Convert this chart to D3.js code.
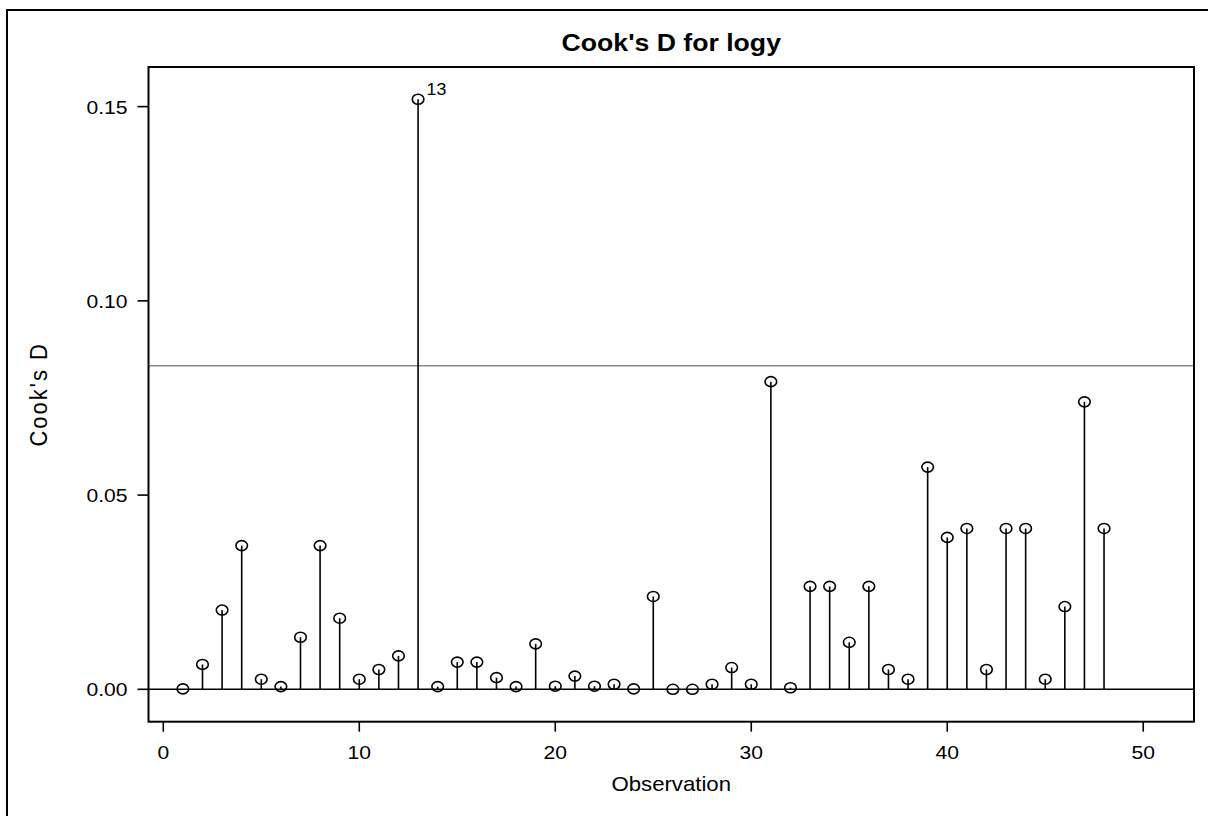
<!DOCTYPE html>
<html>
<head>
<meta charset="utf-8">
<title>Cook's D for logy</title>
<script src="https://cdn.jsdelivr.net/npm/d3@7"></script>
<style>
  html, body { margin: 0; padding: 0; background: #fff; }
  svg { display: block; }
  text { font-family: "Liberation Sans", Arial, Helvetica, sans-serif; fill: #000; }
</style>
</head>
<body>
<svg id="chart" width="1208" height="816"></svg>
<script>
// Observation numbers and Cook's D values
const observations = d3.range(1, 49);
const cooksD = [
  0.0001, 0.0064, 0.0204, 0.0370, 0.0026, 0.0007, 0.0134, 0.0370, 0.0183, 0.0026,
  0.0051, 0.0086, 0.1519, 0.0007, 0.0070, 0.0070, 0.0030, 0.0007, 0.0117, 0.0008,
  0.0034, 0.0008, 0.0013, 0.0001, 0.0239, 0.0000, 0.0000, 0.0013, 0.0056, 0.0013,
  0.0792, 0.0004, 0.0265, 0.0265, 0.0121, 0.0265, 0.0051, 0.0026, 0.0572, 0.0391,
  0.0414, 0.0051, 0.0414, 0.0414, 0.0026, 0.0213, 0.0740, 0.0414
];
// Influence cutoff (4/n)
const cutoff = 0.0833;
const xTicks = [0, 10, 20, 30, 40, 50];
const yTicks = [0.00, 0.05, 0.10, 0.15];

const points = observations.map((o, i) => ({ obs: o, d: cooksD[i] }));

const svg = d3.select("#chart");
const plot = { left: 148.5, right: 1194, top: 67, bottom: 721.7 };
const sx = 1.11; // horizontal text stretch

const x = d3.scaleLinear().domain([-0.755, 52.59]).range([plot.left, plot.right]);
const y = d3.scaleLinear().domain([-0.00834, 0.1602]).range([plot.bottom, plot.top]);

// Outer frame
svg.append("rect")
  .attr("x", 7).attr("y", 10)
  .attr("width", 1240).attr("height", 840)
  .attr("fill", "none").attr("stroke", "#000").attr("stroke-width", 2);

// Title
svg.append("text")
  .attr("transform", `translate(${(plot.left + plot.right) / 2},50.5) scale(${sx},1)`)
  .attr("text-anchor", "middle")
  .attr("font-size", 24).attr("font-weight", "bold")
  .text("Cook's D for logy");

const g = svg.append("g");

// Cutoff reference line
g.append("line")
  .attr("x1", plot.left).attr("x2", plot.right)
  .attr("y1", y(cutoff)).attr("y2", y(cutoff))
  .attr("stroke", "#8a8a8a").attr("stroke-width", 1.5);

// Zero baseline
g.append("line")
  .attr("x1", plot.left).attr("x2", plot.right)
  .attr("y1", y(0)).attr("y2", y(0))
  .attr("stroke", "#000").attr("stroke-width", 1.5);

// Needles
g.selectAll("line.stem").data(points).join("line")
  .attr("class", "stem")
  .attr("x1", d => x(d.obs)).attr("x2", d => x(d.obs))
  .attr("y1", y(0)).attr("y2", d => y(d.d))
  .attr("stroke", "#000").attr("stroke-width", 1.6);

// Markers
g.selectAll("ellipse.pt").data(points).join("ellipse")
  .attr("class", "pt")
  .attr("cx", d => x(d.obs)).attr("cy", d => y(d.d))
  .attr("rx", 5.8).attr("ry", 5.0)
  .attr("fill", "none").attr("stroke", "#000").attr("stroke-width", 1.6);

// Labels for influential observations
g.selectAll("text.lab").data(points.filter(d => d.d > cutoff)).join("text")
  .attr("class", "lab")
  .attr("transform", d => `translate(${x(d.obs) + 8.5},${y(d.d) - 4}) scale(${sx},1)`)
  .attr("font-size", 16)
  .text(d => d.obs);

// Plot frame
svg.append("rect")
  .attr("x", plot.left).attr("y", plot.top)
  .attr("width", plot.right - plot.left).attr("height", plot.bottom - plot.top)
  .attr("fill", "none").attr("stroke", "#000").attr("stroke-width", 2);

// Y axis
const yAxis = svg.append("g");
yAxis.selectAll("line").data(yTicks).join("line")
  .attr("x1", plot.left - 11).attr("x2", plot.left)
  .attr("y1", d => y(d)).attr("y2", d => y(d))
  .attr("stroke", "#000").attr("stroke-width", 1.6);
yAxis.selectAll("text").data(yTicks).join("text")
  .attr("transform", d => `translate(${plot.left - 21},${y(d) + 7}) scale(${sx},1)`)
  .attr("text-anchor", "end")
  .attr("font-size", 19)
  .attr("fill", "#222")
  .text(d => d3.format(".2f")(d));

// X axis
const xAxis = svg.append("g");
xAxis.selectAll("line").data(xTicks).join("line")
  .attr("x1", d => x(d)).attr("x2", d => x(d))
  .attr("y1", plot.bottom).attr("y2", plot.bottom + 10)
  .attr("stroke", "#000").attr("stroke-width", 1.6);
xAxis.selectAll("text").data(xTicks).join("text")
  .attr("transform", d => `translate(${x(d)},759) scale(${sx},1)`)
  .attr("text-anchor", "middle")
  .attr("font-size", 19)
  .attr("fill", "#222")
  .text(d => d);

// Axis titles
svg.append("text")
  .attr("transform", `translate(${(plot.left + plot.right) / 2},791) scale(${sx},1)`)
  .attr("text-anchor", "middle")
  .attr("font-size", 20)
  .attr("fill", "#222")
  .text("Observation");

svg.append("text")
  .attr("transform", `translate(47,${(plot.top + plot.bottom) / 2}) rotate(-90) scale(1,${sx})`)
  .attr("text-anchor", "middle")
  .attr("font-size", 22)
  .attr("letter-spacing", 2)
  .attr("fill", "#222")
  .text("Cook's D");
</script>
</body>
</html>
